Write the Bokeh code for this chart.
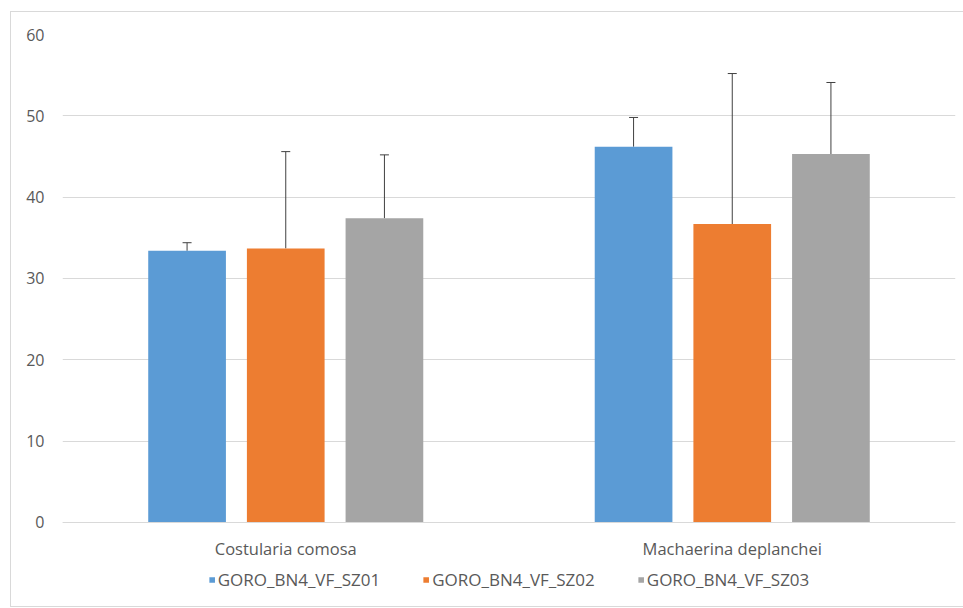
from bokeh.plotting import figure
from bokeh.models import (ColumnDataSource, FactorRange, Whisker, TeeHead, Legend,
                          LegendItem, FixedTicker, Range1d)
from bokeh.transform import dodge
from bokeh.embed import file_html
from bokeh.resources import INLINE

categories = ["Costularia comosa", "Machaerina deplanchei"]
series_names = ["GORO_BN4_VF_SZ01", "GORO_BN4_VF_SZ02", "GORO_BN4_VF_SZ03"]
sz01 = [33.4, 46.2]
sz01_err = [1.0, 3.6]
sz02 = [33.7, 36.7]
sz02_err = [11.9, 18.5]
sz03 = [37.4, 45.3]
sz03_err = [7.8, 8.8]
y_ticks = [0, 10, 20, 30, 40, 50, 60]
colors = ["#5B9BD5", "#ED7D31", "#A5A5A5"]

values = [sz01, sz02, sz03]
errors = [sz01_err, sz02_err, sz03_err]
offsets = [-0.221, 0.0, 0.221]

FONT = "Open Sans"

# frame extends below the value axis to hold category labels and legend
p = figure(x_range=FactorRange(factors=categories, range_padding=0),
           y_range=Range1d(-10.33, 60), frame_width=893, frame_height=572,
           output_backend="svg", toolbar_location=None,
           min_border_left=51, min_border_right=8, min_border_top=22,
           min_border_bottom=0)
p.outline_line_color = None
p.xgrid.grid_line_color = None
p.ygrid.grid_line_color = "#D9D9D9"
p.ygrid.grid_line_width = 1
p.ygrid.ticker = FixedTicker(ticks=y_ticks)

p.yaxis.ticker = FixedTicker(ticks=y_ticks)
p.yaxis.axis_line_color = None
p.yaxis.major_tick_line_color = None
p.yaxis.minor_tick_line_color = None
p.yaxis.major_label_text_color = "#595959"
p.yaxis.major_label_text_font = FONT
p.yaxis.major_label_text_font_size = "16px"
p.yaxis.major_label_standoff = 12

p.xaxis.fixed_location = 0
p.xaxis.axis_line_color = "#D9D9D9"
p.xaxis.major_tick_line_color = None
p.xaxis.minor_tick_line_color = None
p.xaxis.major_label_text_color = "#595959"
p.xaxis.major_label_text_font = FONT
p.xaxis.major_label_text_font_size = "16.5px"
p.xaxis.major_label_standoff = 9

items = []
for name, vals, errs, off, col in zip(series_names, values, errors, offsets, colors):
    src = ColumnDataSource(dict(cat=categories, value=vals,
                                upper=[v + e for v, e in zip(vals, errs)]))
    r = p.vbar(x=dodge("cat", off, range=p.x_range), top="value", bottom=0,
               width=0.174, source=src, fill_color=col, line_color=None)
    w = Whisker(source=src, base=dodge("cat", off, range=p.x_range),
                lower="value", upper="upper", dimension="height",
                line_color="#404040", line_width=1,
                upper_head=TeeHead(size=9, line_color="#404040", line_width=1),
                lower_head=None)
    p.add_layout(w)
    items.append(LegendItem(label=name, renderers=[r]))

legend = Legend(items=items, orientation="horizontal", location="bottom_center",
                label_text_font=FONT, label_text_font_size="17px",
                label_text_color="#595959", glyph_width=7, glyph_height=7,
                spacing=42, label_standoff=3, background_fill_alpha=0,
                border_line_color=None, padding=0, margin=15)
p.add_layout(legend, "center")

p.styles = {"margin-left": "10px", "margin-top": "11px",
            "border": "1px solid #D9D9D9"}

open("out.html", "w").write(file_html(p, INLINE))
